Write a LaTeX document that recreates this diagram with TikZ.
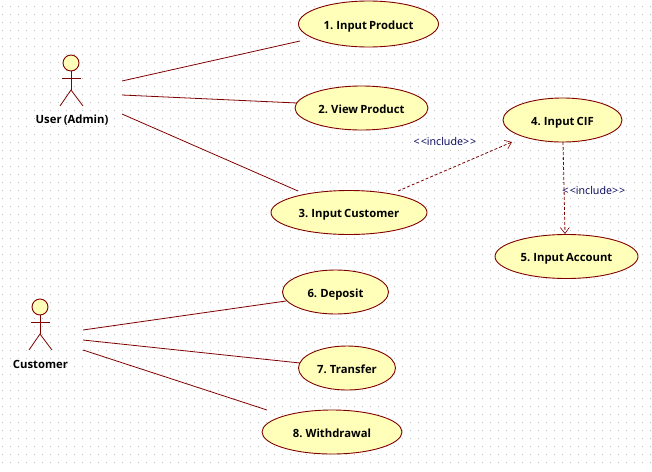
\documentclass[tikz,border=0pt]{standalone}
\usepackage{fontspec}
\setmainfont[WordSpace=0.72]{Open Sans}
\usetikzlibrary{arrows.meta,shapes.geometric}
\definecolor{umlline}{RGB}{128,0,0}
\definecolor{umlfill}{RGB}{255,255,185}
\definecolor{labelblue}{RGB}{0,0,90}
\definecolor{griddot}{RGB}{195,195,195}
\tikzset{
 usecase/.style={draw=umlline,fill=umlfill,ellipse,line width=0.9pt,inner sep=0pt,font=\fontsize{11.3}{12}\selectfont\bfseries,text=black,text height=11pt,text depth=0.5pt},
 actorname/.style={font=\fontsize{11.3}{12}\selectfont\bfseries,text=black,inner sep=0pt,text height=11pt,text depth=0.5pt},
 assoc/.style={draw=umlline,line width=0.8pt},
 incl/.style={draw=umlline,line width=0.8pt,dash pattern=on 3pt off 2pt,-{Straight Barb[length=6pt,width=9pt,line width=0.6pt]}},
 incllabel/.style={font=\fontsize{10.7}{12}\selectfont,text=labelblue,inner sep=0pt},
 limb/.style={draw=umlline,line width=0.8pt},
 head/.style={draw=umlline,fill=umlfill,circle,line width=0.9pt,minimum size=16pt,inner sep=0pt},
}
\begin{document}
\begin{tikzpicture}[x=1pt,y=-1pt]
\useasboundingbox (0,0) rectangle (652,471);
\fill[white] (0,0) rectangle (652,471);
\foreach \i in {0,...,81}{\foreach \j in {0,...,57}{\fill[griddot] (\i*8+2,\j*8+6) rectangle +(1,1);}}
\node[usecase,minimum width=140pt,minimum height=46pt] (u1) at (368.5,24) {1. Input Product};
\node[usecase,minimum width=133pt,minimum height=44pt] (u2) at (361.5,108) {2. View Product};
\node[usecase,minimum width=156pt,minimum height=44pt] (u3) at (349,212.5) {3. Input Customer};
\node[usecase,minimum width=119pt,minimum height=44pt] (u4) at (562.5,120) {4. Input CIF};
\node[usecase,minimum width=143pt,minimum height=44pt] (u5) at (566.5,256.5) {5. Input Account};
\node[usecase,minimum width=106pt,minimum height=44pt] (u6) at (335.5,292) {6. Deposit};
\node[usecase,minimum width=97pt,minimum height=44pt] (u7) at (347,368) {7. Transfer};
\node[usecase,minimum width=140pt,minimum height=44pt] (u8) at (332,432) {8. Withdrawal};
% actor 1
\node[head] (a1h) at (71,63) {};
\coordinate (a1c) at (71,90);
\coordinate (a1al) at (62,78);
\coordinate (a1ar) at (81,78);
\coordinate (a1ll) at (60,106);
\coordinate (a1lr) at (83,106);
\draw[limb] (a1h) -- (a1c);
\draw[limb] (a1al) -- (a1ar);
\draw[limb] (a1ll) -- (a1c) -- (a1lr);
\node[actorname] (a1) at (72,118.5) {User (Admin)};
% actor 2
\node[head] (a2h) at (40,307) {};
\coordinate (a2c) at (40,334);
\coordinate (a2al) at (31,322);
\coordinate (a2ar) at (50,322);
\coordinate (a2ll) at (29,350);
\coordinate (a2lr) at (52,350);
\draw[limb] (a2h) -- (a2c);
\draw[limb] (a2al) -- (a2ar);
\draw[limb] (a2ll) -- (a2c) -- (a2lr);
\node[actorname] (a2) at (40.5,363) {Customer};
% associations
\coordinate (s1) at (122,81);
\coordinate (s2) at (122,95);
\coordinate (s3) at (122,114);
\coordinate (e1) at (300,41);
\coordinate (e2) at (297,103);
\coordinate (e3) at (298,191);
\draw[assoc] (s1) -- (e1);
\draw[assoc] (s2) -- (e2);
\draw[assoc] (s3) -- (e3);
\coordinate (s6) at (83,330);
\coordinate (s7) at (83,340);
\coordinate (s8) at (83,350);
\coordinate (e6) at (286,301);
\coordinate (e7) at (300,363);
\coordinate (e8) at (267,410);
\draw[assoc] (s6) -- (e6);
\draw[assoc] (s7) -- (e7);
\draw[assoc] (s8) -- (e8);
% includes
\coordinate (i3) at (398,191);
\coordinate (i4) at (512,142);
\coordinate (i5) at (563,142);
\coordinate (i6) at (565,234);
\draw[incl] (i3) -- (i4);
\draw[incl] (i5) -- (i6);
\node[incllabel] (l1) at (445,141) {<\kern1pt<include>\kern1pt>};
\node[incllabel] (l2) at (594,190) {<\kern1pt<include>\kern1pt>};
\end{tikzpicture}
\end{document}
